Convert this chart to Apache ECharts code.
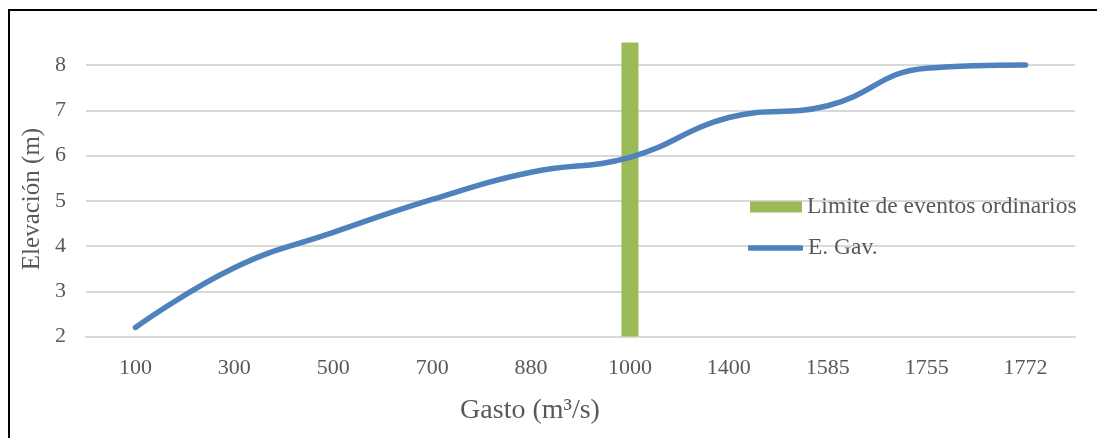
<!DOCTYPE html>
<html>
<head>
<meta charset="utf-8">
<script src="https://cdn.jsdelivr.net/npm/echarts@6/dist/echarts.min.js"></script>
<style>
html,body{margin:0;padding:0;background:#fff;}
#c{width:1097px;height:438px;}
</style>
</head>
<body>
<div id="c"></div>
<script>
var categories = ['100', '300', '500', '700', '880', '1000', '1400', '1585', '1755', '1772'];
var elevation = [2.2, 3.52, 4.3, 5.03, 5.63, 5.96, 6.84, 7.1, 7.93, 8.0];
var limitBar = [null, null, null, null, null, 8.5, null, null, null, null];
var seriesNames = ['Limite de eventos ordinarios', 'E. Gav.'];
var xTitle = 'Gasto (m³/s)';
var yTitle = 'Elevación (m)';

var font = '"Liberation Serif", "Times New Roman", serif';
var txt = '#595959';
var chart = echarts.init(document.getElementById('c'), null, {renderer: 'canvas'});
chart.setOption({
  animation: false,
  textStyle: {fontFamily: font},
  grid: {left: 86, right: 22, top: 42.4, bottom: 101.5, containLabel: false},
  legend: [
    {
      left: 750,
      top: 195,
      padding: 0,
      itemWidth: 52,
      itemHeight: 11,
      textStyle: {fontFamily: font, fontSize: 23.5, color: txt, lineHeight: 24},
      data: [{name: seriesNames[0], icon: 'rect'}]
    },
    {
      left: 748,
      top: 236,
      padding: 0,
      itemWidth: 55,
      itemHeight: 5.5,
      textStyle: {fontFamily: font, fontSize: 23.5, color: txt, lineHeight: 24},
      data: [{name: seriesNames[1], icon: 'roundRect'}]
    }
  ],
  xAxis: {
    type: 'category',
    data: categories,
    boundaryGap: true,
    axisLine: {lineStyle: {color: '#d9d9d9', width: 2}},
    axisTick: {show: false},
    axisLabel: {color: txt, fontFamily: font, fontSize: 22, margin: 21}
  },
  yAxis: {
    type: 'value',
    min: 2,
    max: 8.5,
    interval: 1,
    axisLine: {show: false},
    axisTick: {show: false},
    axisLabel: {color: txt, fontFamily: font, fontSize: 22, margin: 20, showMaxLabel: false},
    splitLine: {show: true, showMaxLine: false, lineStyle: {color: '#d9d9d9', width: 2}}
  },
  graphic: [
    {type: 'rect', silent: true, shape: {x: 9, y: 10, width: 1200, height: 600}, style: {fill: 'none', stroke: '#000', lineWidth: 2}},
    {type: 'text', silent: true, x: 530, y: 411, style: {text: xTitle, fontFamily: font, fontSize: 28, fill: txt, align: 'center', verticalAlign: 'middle'}},
    {type: 'text', silent: true, x: 32, y: 199, rotation: Math.PI / 2, style: {text: yTitle, fontFamily: font, fontSize: 25, fill: txt, align: 'center', verticalAlign: 'middle'}}
  ],
  series: [
    {
      name: seriesNames[0],
      type: 'bar',
      data: limitBar,
      barWidth: 17,
      itemStyle: {color: '#9BBB59'},
      z: 2
    },
    {
      name: seriesNames[1],
      type: 'line',
      data: elevation,
      smooth: 0.45,
      symbol: 'none',
      lineStyle: {color: '#4F81BD', width: 5.5, cap: 'round'},
      itemStyle: {color: '#4F81BD'},
      z: 3
    }
  ]
});
</script>
</body>
</html>
